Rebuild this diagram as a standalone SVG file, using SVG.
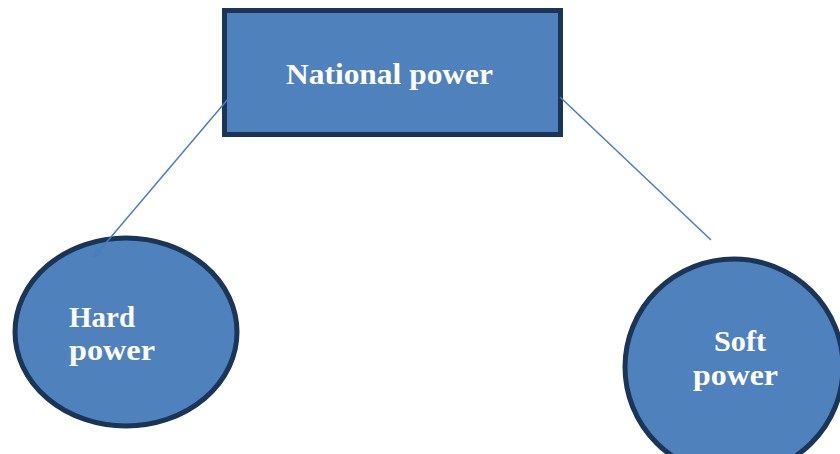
<svg xmlns="http://www.w3.org/2000/svg" width="840" height="454" viewBox="0 0 840 454">
<style>
.node{fill:#4F81BD;stroke:#1B3556;stroke-width:5}
.lbl{font-family:"Liberation Serif","DejaVu Serif",serif;font-weight:bold;font-size:29px;fill:#FFFFFF}
.conn{stroke:#4A7EBB;stroke-width:1.5;fill:none}
</style>
<defs>
<marker id="ah" viewBox="0 0 10 10" refX="9" refY="5" markerWidth="7" markerHeight="7" orient="auto"><path d="M0,0 L10,5 L0,10 z" fill="#4A7EBB"/></marker>
</defs>
<rect width="840" height="454" fill="#FFFFFF"/>
<g id="national-power">
<rect class="node" x="224.5" y="10.5" width="336" height="124"/>
<text class="lbl" x="286" y="84" textLength="207" lengthAdjust="spacingAndGlyphs">National power</text>
</g>
<g id="hard-power">
<ellipse class="node" cx="126" cy="332" rx="111" ry="94"/>
<text class="lbl" x="69" y="327" textLength="66" lengthAdjust="spacingAndGlyphs">Hard</text>
<text class="lbl" x="69" y="360" textLength="86" lengthAdjust="spacingAndGlyphs">power</text>
</g>
<g id="soft-power">
<ellipse class="node" cx="734" cy="367" rx="109" ry="108"/>
<text class="lbl" x="714" y="351" textLength="52" lengthAdjust="spacingAndGlyphs">Soft</text>
<text class="lbl" x="693" y="385" textLength="85" lengthAdjust="spacingAndGlyphs">power</text>
</g>
<g id="connectors">
<line class="conn" x1="228" y1="99" x2="94" y2="257" marker-end="url(#ah)"/>
<line class="conn" x1="560" y1="97" x2="711" y2="240"/>
</g>
</svg>
